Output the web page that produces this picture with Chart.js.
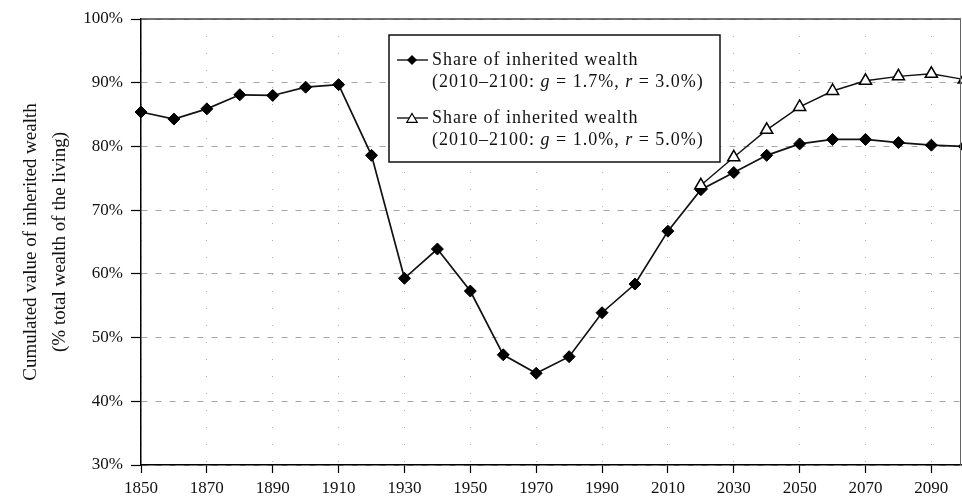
<!DOCTYPE html>
<html><head><meta charset="utf-8">
<script src="https://cdn.jsdelivr.net/npm/chart.js@4"></script>
<style>html,body{margin:0;padding:0;background:#fff;overflow:hidden;} canvas{display:block;}</style>
</head><body><canvas id="c" width="962" height="501" style="width:962px;height:501px"></canvas>
<script>
const years = [1850,1860,1870,1880,1890,1900,1910,1920,1930,1940,1950,1960,1970,1980,1990,2000,2010,2020,2030,2040,2050,2060,2070,2080,2090,2100];
const shareA = [85.4,84.3,85.9,88.1,88.0,89.3,89.7,78.6,59.3,63.9,57.3,47.3,44.4,47.0,53.9,58.4,66.7,73.2,75.9,78.6,80.4,81.1,81.1,80.6,80.2,80.0];
const shareB = [null,null,null,null,null,null,null,null,null,null,null,null,null,null,null,null,null,73.9,78.3,82.6,86.2,88.7,90.3,91.0,91.4,90.5];
const xTickYears = [1850,1870,1890,1910,1930,1950,1970,1990,2010,2030,2050,2070,2090];
const yTickValues = [30,40,50,60,70,80,90,100];
const legendA = ['Share of inherited wealth', [['(2010–2100: ',false],['g',true],[' = 1.7%, ',false],['r',true],[' = 3.0%)',false]]];
const legendB = ['Share of inherited wealth', [['(2010–2100: ',false],['g',true],[' = 1.0%, ',false],['r',true],[' = 5.0%)',false]]];
const yTitle = ['Cumulated value of inherited wealth', '(% total wealth of the living)'];

const FONT = '"Liberation Serif", "DejaVu Serif", serif';

const framePlugin = {
  id: 'frame',
  afterDraw(chart) {
    const {ctx, chartArea: a} = chart;
    ctx.save();
    ctx.strokeStyle = '#444';
    ctx.lineWidth = 1.5;
    ctx.beginPath();
    ctx.moveTo(a.left, a.top); ctx.lineTo(a.right, a.top);
    ctx.stroke();
    ctx.lineWidth = 1;
    ctx.strokeStyle = '#666';
    ctx.beginPath();
    ctx.moveTo(a.right - 0.5, a.top); ctx.lineTo(a.right - 0.5, a.bottom);
    ctx.stroke();
    ctx.restore();
  }
};

function drawDiamond(ctx, x, y, r) {
  ctx.beginPath();
  ctx.moveTo(x, y - r); ctx.lineTo(x + r, y); ctx.lineTo(x, y + r); ctx.lineTo(x - r, y); ctx.closePath();
  ctx.fillStyle = '#000'; ctx.fill();
}
function drawTriangle(ctx, x, y, r) {
  ctx.beginPath();
  ctx.moveTo(x, y - r); ctx.lineTo(x + r * 0.95, y + r * 0.6); ctx.lineTo(x - r * 0.95, y + r * 0.6); ctx.closePath();
  ctx.fillStyle = '#fff'; ctx.fill();
  ctx.lineWidth = 1.2; ctx.strokeStyle = '#000'; ctx.stroke();
}

const legendPlugin = {
  id: 'customLegend',
  afterDraw(chart) {
    const ctx = chart.ctx;
    ctx.save();
    const bx = 389, by = 35, bw = 331, bh = 127;
    ctx.fillStyle = '#fff';
    ctx.fillRect(bx, by, bw, bh);
    ctx.lineWidth = 1.5; ctx.strokeStyle = '#111';
    ctx.strokeRect(bx, by, bw, bh);
    const entries = [[legendA, 60, 'd'], [legendB, 118, 't']];
    ctx.textBaseline = 'middle';
    ctx.fillStyle = '#111';
    try { ctx.letterSpacing = '1px'; } catch (e) {}
    for (const [lab, y, kind] of entries) {
      ctx.lineWidth = 1.3; ctx.strokeStyle = '#000';
      ctx.beginPath(); ctx.moveTo(397, y); ctx.lineTo(428, y); ctx.stroke();
      if (kind === 'd') drawDiamond(ctx, 412, y, 5); else drawTriangle(ctx, 412, y + 1, 5.5);
      ctx.fillStyle = '#111';
      ctx.font = '18px ' + FONT;
      ctx.fillText(lab[0], 432, y);
      let x = 432;
      for (const [txt, it] of lab[1]) {
        ctx.font = (it ? 'italic ' : '') + '18px ' + FONT;
        ctx.fillText(txt, x, y + 22);
        x += ctx.measureText(txt).width;
      }
    }
    ctx.restore();
  }
};

new Chart(document.getElementById('c'), {
  type: 'line',
  data: {
    datasets: [
      {
        label: 'Share of inherited wealth (2010–2100: g = 1.7%, r = 3.0%)',
        data: years.map((y, i) => ({x: y, y: shareA[i]})),
        borderColor: '#111', borderWidth: 1.7, tension: 0,
        pointStyle: 'rectRot', pointRadius: 6, pointBackgroundColor: '#000', pointBorderColor: '#000', pointBorderWidth: 1,
        clip: false, order: 2
      },
      {
        label: 'Share of inherited wealth (2010–2100: g = 1.0%, r = 5.0%)',
        data: years.map((y, i) => ({x: y, y: shareB[i]})),
        borderColor: '#111', borderWidth: 1.4, tension: 0, spanGaps: false,
        pointStyle: 'triangle', pointRadius: 7, pointBackgroundColor: '#fff', pointBorderColor: '#000', pointBorderWidth: 1.5,
        clip: false, order: 1
      }
    ]
  },
  options: {
    responsive: false, animation: false,
    devicePixelRatio: 1,
    layout: {autoPadding: false, padding: {top: 19, right: 1, left: 0, bottom: 0}},
    plugins: {legend: {display: false}, tooltip: {enabled: false}},
    scales: {
      x: {
        type: 'linear', min: 1850, max: 2099,
        afterBuildTicks: (s) => { s.ticks = xTickYears.map(v => ({value: v})); },
        afterFit: (s) => { s.height = 36; s.paddingRight = 0; s.paddingLeft = 0; },
        ticks: {color: '#111', font: {family: FONT, size: 17}, padding: 5, maxRotation: 0, autoSkip: false, callback: v => String(v)},
        grid: {color: 'rgba(0,0,0,0.3)', tickLength: 8, tickColor: '#000', tickBorderDash: [], tickWidth: 1.2},
        border: {display: true, color: '#000', width: 1.5, dash: [1, 16]}
      },
      y: {
        min: 30, max: 100,
        afterBuildTicks: (s) => { s.ticks = yTickValues.map(v => ({value: v})); },
        afterFit: (s) => { s.width = 141; },
        ticks: {color: '#111', font: {family: FONT, size: 17}, padding: 8, callback: v => v + '%'},
        grid: {color: 'rgba(0,0,0,0.35)', tickLength: 10, tickColor: '#000', tickBorderDash: [], tickWidth: 1.2},
        border: {display: true, color: '#000', width: 1.5, dash: [6, 8]},
        title: {display: true, text: yTitle, color: '#111', font: {family: FONT, size: 19, lineHeight: 1.5}, padding: {top: 17, bottom: 0}}
      }
    }
  },
  plugins: [framePlugin, legendPlugin]
});
</script>
</body></html>
